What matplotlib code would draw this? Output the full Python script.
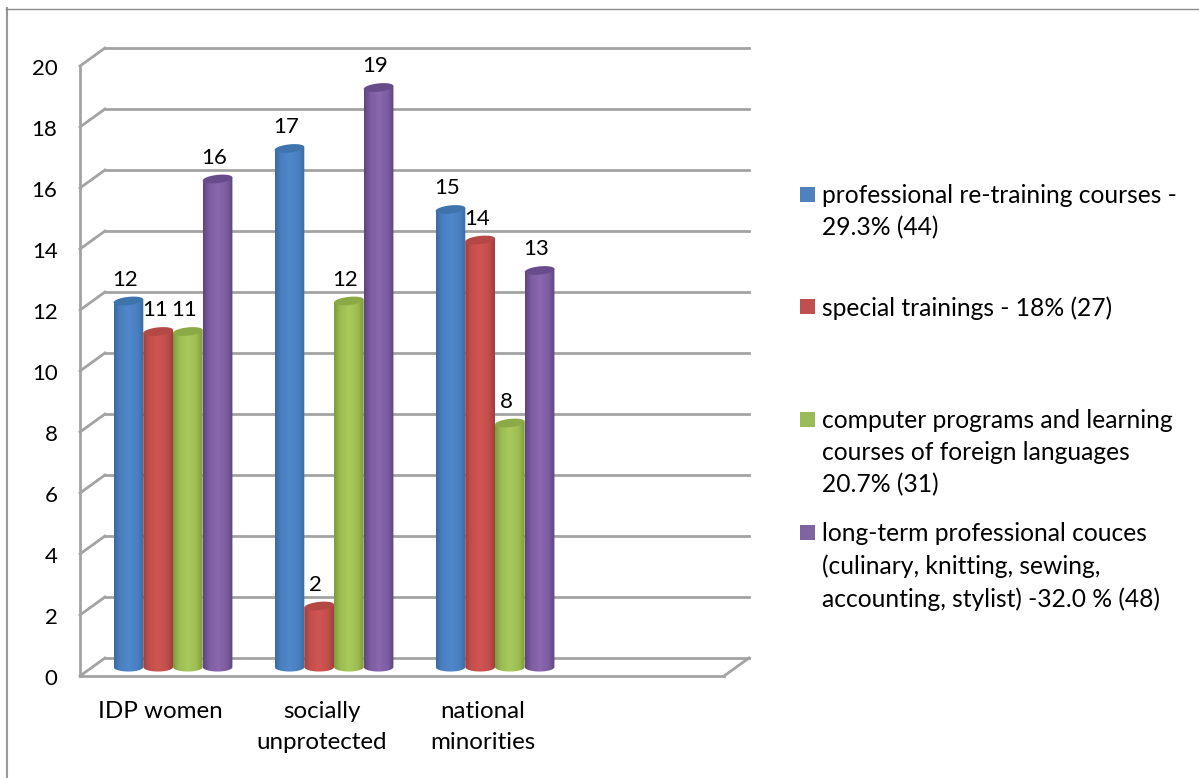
import numpy as np
import matplotlib
matplotlib.use('Agg')
import matplotlib.pyplot as plt
from matplotlib.patches import Polygon, Rectangle
from matplotlib.colors import LinearSegmentedColormap

categories = ['IDP women', 'socially\nunprotected', 'national\nminorities']
series_names = ['professional re-training courses -\n29.3% (44)',
                'special trainings - 18% (27)',
                'computer programs and learning\ncourses of foreign languages\n20.7% (31)',
                'long-term professional couces\n(culinary, knitting, sewing,\naccounting, stylist) -32.0 % (48)']
retraining = [12, 17, 15]
special = [11, 2, 14]
computer = [11, 12, 8]
long_term = [16, 19, 13]
y_ticks = list(range(0, 21, 2))

W, H = 1199, 778
FONT = 'Lato'
FS = 17.7
FS_NUM = 16
GRID = '#A3A3A3'
# (dark edge, mid, top cap, legend square)
colors = [('#3A6BA3', '#5088CB', '#3F73AC', '#4F81BD'),
          ('#A03F3C', '#D05552', '#B44845', '#C0504D'),
          ('#7F9B3C', '#A8CA5C', '#8BAA46', '#9BBB59'),
          ('#5F4480', '#8A67AE', '#674B8A', '#8064A2')]

fig = plt.figure(figsize=(W / 100, H / 100), dpi=100)
fig.patch.set_facecolor('white')

# outer frame
bg = fig.add_axes([0, 0, 1, 1])
bg.set_xlim(0, W)
bg.set_ylim(H, 0)
bg.axis('off')
bg.plot([6.5, 6.5], [H, 8], color='#999999', lw=1.5)
bg.plot([6, W], [8.5, 8.5], color='#8C8C8C', lw=1.0)

# front plane of the box: x 80..724, y 676..66 px
ax = fig.add_axes([80 / W, 1 - 676 / H, 644 / W, 610 / H])
ax.set_xlim(0, 4)
ax.set_ylim(0, 20)
ax.axis('off')
dx = 25 / 161
dy = 18 / 30.5

line_kw = dict(color=GRID, lw=2.0, clip_on=False, solid_capstyle='projecting', zorder=1)
for t in y_ticks:
    ax.plot([0, dx], [t, t + dy], **line_kw)
    ax.plot([dx, 4 + dx], [t + dy, t + dy], **line_kw)
    ax.text(-0.14, t - 0.1, str(t), ha='right', va='center', fontsize=FS_NUM, family=FONT, color='black')
ax.plot([0, 0], [0, 20], **line_kw)
ax.plot([0, 4], [0, 0], **line_kw)
ax.plot([4, 4 + dx], [0, dy], **line_kw)

bar_w = 0.1845
cap_h = 0.135
tilt = 0.05
t_arc = np.linspace(0, 2 * np.pi, 80)
t_low = np.linspace(np.pi, 2 * np.pi, 40)
grad = np.interp(np.linspace(0, 1, 60), [0, 0.2, 0.5, 0.8, 1], [0, .7, 1, .7, 0]).reshape(1, -1)
base = dy / 2
for i, vals in enumerate([retraining, special, computer, long_term]):
    dark, mid, cap, _ = colors[i]
    cmap = LinearSegmentedColormap.from_list('c', [dark, mid], N=64)
    for g, v in enumerate(vals):
        x0 = g + 0.131 + i * bar_w + dx / 2
        cx = x0 + bar_w / 2
        z = 3 + g * 10 + i
        # cylinder body: round bottom, tilted top, gradient clipped to it
        outline = np.column_stack([cx + bar_w / 2 * np.cos(t_low), base + cap_h * 1.1 * np.sin(t_low)])
        outline = np.vstack([outline, [x0 + bar_w, base + v + tilt], [x0, base + v - tilt]])
        body = Polygon(outline, closed=True, transform=ax.transData, facecolor='none', edgecolor='none')
        ax.add_patch(body)
        im = ax.imshow(grad, cmap=cmap, vmin=0, vmax=1, aspect='auto', zorder=z,
                       extent=(x0, x0 + bar_w, base - cap_h * 1.2, base + v + tilt + 0.01))
        im.set_clip_path(body)
        ax.fill(cx + bar_w / 2 * np.cos(t_arc),
                base + v + cap_h * np.sin(t_arc) + tilt * np.cos(t_arc),
                color=cap, lw=0, zorder=z + 0.2, clip_on=False)
        ax.text(cx - 0.022, base + v + 0.5, str(v), ha='center', va='baseline',
                fontsize=FS_NUM, family=FONT, color='black', zorder=100)
ax.set_xlim(0, 4)
ax.set_ylim(0, 20)

for g, name in enumerate(categories):
    ax.text(g + 0.5, -0.82, name, ha='center', va='top', fontsize=17.4, family=FONT,
            color='black', linespacing=1.58)

# legend: square top and first-line text position in px
square_y = [187, 299, 412, 525]
for i, name in enumerate(series_names):
    bg.add_patch(Rectangle((800, square_y[i]), 15, 15, facecolor=colors[i][3], edgecolor='none'))
    bg.text(822, square_y[i] - 3, name, ha='left', va='top', fontsize=FS, family=FONT,
            color='black', linespacing=1.48)

fig.savefig('out.png', dpi=100)
